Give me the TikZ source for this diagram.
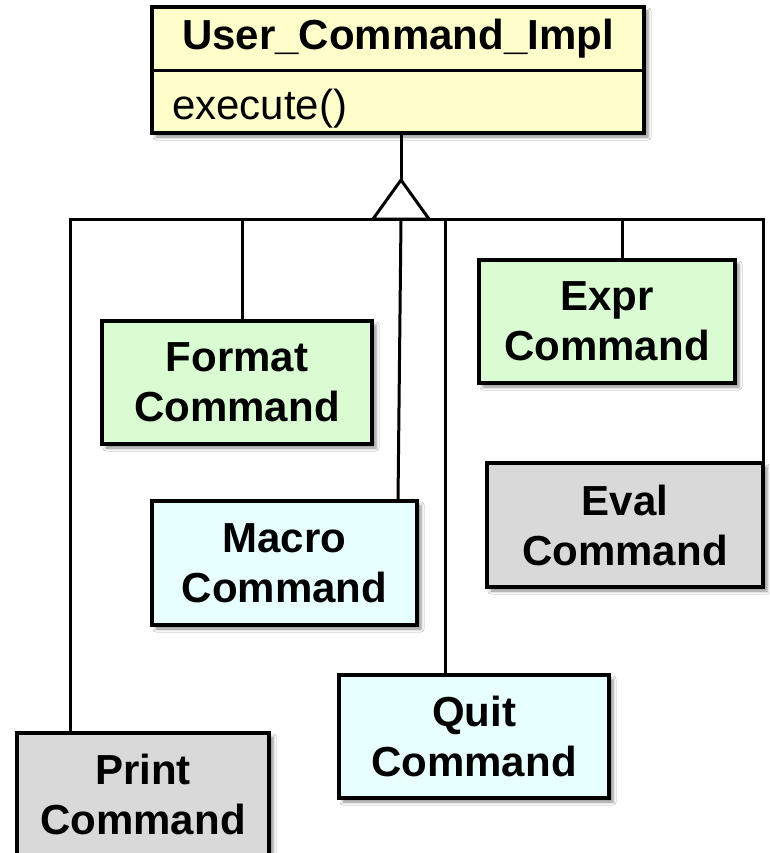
\documentclass[tikz,border=0pt]{standalone}
\usepackage{fontspec}
\setmainfont{Liberation Sans}
\usetikzlibrary{shadows.blur}

\definecolor{implfill}{HTML}{FFFFCC}
\definecolor{greenfill}{HTML}{D9FCD3}
\definecolor{cyanfill}{HTML}{E8FFFF}
\definecolor{grayfill}{HTML}{D9D9D9}

\begin{document}
\begin{tikzpicture}[x=1pt, y=-1pt,
  classbox/.style={draw=black, line width=3.5pt, inner sep=0pt,
    font=\fontsize{42}{50}\selectfont\bfseries, align=center,
    blur shadow={shadow xshift=4pt, shadow yshift=-4pt,
      shadow blur radius=3pt, shadow opacity=45}},
  greenbox/.style={classbox, fill=greenfill},
  cyanbox/.style={classbox, fill=cyanfill},
  graybox/.style={classbox, fill=grayfill},
  link/.style={draw=black, line width=3pt},
]
\useasboundingbox (0,0) rectangle (769,853);
\fill[white] (0,0) rectangle (769,853);

% base class with its operation compartment
\node[classbox, fill=implfill, minimum width=492pt, minimum height=126pt] (impl) at (398,70) {};
\draw[line width=3pt] (impl.west |- 0,71) -- (impl.east |- 0,71);
\node[font=\fontsize{42}{50}\selectfont\bfseries] (title) at (398,39) {User\_Command\_Impl};
\node[font=\fontsize{42}{50}\selectfont, anchor=base west, inner sep=0pt] (op) at (172,120) {execute()};

% subclasses
\node[greenbox, minimum width=270pt, minimum height=123pt] (fmt)   at (237,382.5) {Format\\Command};
\node[greenbox, minimum width=256pt, minimum height=123pt] (expr)  at (607,321.5) {Expr\\Command};
\node[graybox,  minimum width=276pt, minimum height=124pt] (eval)  at (625,525)   {Eval\\Command};
\node[cyanbox,  minimum width=265pt, minimum height=124pt] (macro) at (284.5,563) {Macro\\Command};
\node[cyanbox,  minimum width=270pt, minimum height=123pt] (quit)  at (474,736.5) {Quit\\Command};
\node[graybox,  minimum width=252pt, minimum height=123pt] (print) at (143,794.5) {Print\\Command};

% generalization tree
\coordinate (apex) at (401,180);
\coordinate (busL) at (70,219);
\coordinate (busR) at (763,219);
\coordinate (dropF) at (242,219);
\coordinate (dropM) at (401,219);
\coordinate (dropQ) at (445,219);
\coordinate (dropX) at (622,219);

\draw[link] (apex |- impl.south) -- (apex);
\draw[link] (busL |- print.north) -- (busL) -- (busR) -- (busR |- eval.north);
\draw[link] (dropF) -- (dropF |- fmt.north);
\draw[link] (dropM) -- (398,501);
\draw[link] (dropQ) -- (dropQ |- quit.north);
\draw[link] (dropX) -- (dropX |- expr.north);
\draw[link, fill=white, line join=miter] (apex) -- (373,219) -- (429,219) -- cycle;
\end{tikzpicture}
\end{document}
